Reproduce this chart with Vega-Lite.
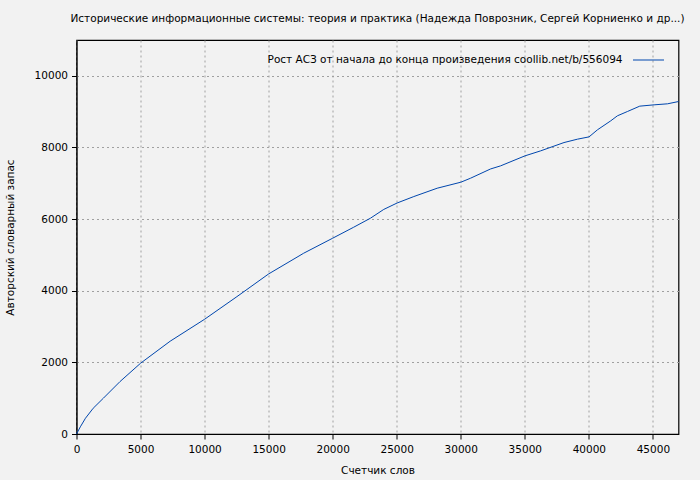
{
  "$schema": "https://vega.github.io/schema/vega-lite/v6.json",
  "width": 602,
  "height": 394,
  "autosize": "none",
  "padding": {"left": 76.5, "top": 40, "right": 21.5, "bottom": 46},
  "background": "#f2f2f2",
  "config": {
    "font": "DejaVu Sans",
    "view": {"stroke": "#000000", "strokeWidth": 1.2},
    "axis": {
      "labelFont": "DejaVu Sans",
      "titleFont": "DejaVu Sans",
      "labelFontSize": 10.5,
      "titleFontSize": 10.5,
      "titleFontWeight": "normal",
      "labelColor": "#000000",
      "titleColor": "#000000",
      "domainColor": "#000000",
      "tickColor": "#000000",
      "tickSize": 5,
      "labelFlush": false,
      "labelOverlap": false,
      "grid": true,
      "gridColor": "#a0a0a0",
      "gridDash": [2, 3],
      "gridWidth": 1
    }
  },
  "title": {
    "text": "Исторические информационные системы: теория и практика (Надежда Поврозник, Сергей Корниенко и др...)",
    "font": "DejaVu Sans",
    "fontSize": 10.5,
    "fontWeight": "normal",
    "color": "#000000",
    "anchor": "middle",
    "offset": 16
  },
  "data": {
    "values": [
      {"words": 0, "vocab": 0},
      {"words": 300, "vocab": 200},
      {"words": 700, "vocab": 440},
      {"words": 1300, "vocab": 718},
      {"words": 2100, "vocab": 1000},
      {"words": 3400, "vocab": 1465},
      {"words": 5000, "vocab": 1975},
      {"words": 7310, "vocab": 2590},
      {"words": 10000, "vocab": 3203},
      {"words": 12525, "vocab": 3835},
      {"words": 15000, "vocab": 4469},
      {"words": 17735, "vocab": 5047},
      {"words": 20000, "vocab": 5466},
      {"words": 21640, "vocab": 5773},
      {"words": 22950, "vocab": 6025},
      {"words": 23990, "vocab": 6270},
      {"words": 25035, "vocab": 6450},
      {"words": 26335, "vocab": 6629},
      {"words": 28160, "vocab": 6862},
      {"words": 30010, "vocab": 7030},
      {"words": 30770, "vocab": 7142},
      {"words": 32330, "vocab": 7400},
      {"words": 33110, "vocab": 7486},
      {"words": 35010, "vocab": 7765},
      {"words": 36240, "vocab": 7905},
      {"words": 38060, "vocab": 8137},
      {"words": 39110, "vocab": 8231},
      {"words": 40015, "vocab": 8295},
      {"words": 40670, "vocab": 8492},
      {"words": 41710, "vocab": 8743},
      {"words": 42230, "vocab": 8883},
      {"words": 43010, "vocab": 9003},
      {"words": 43975, "vocab": 9153},
      {"words": 45095, "vocab": 9190},
      {"words": 46140, "vocab": 9218},
      {"words": 47000, "vocab": 9282}
    ]
  },
  "mark": {"type": "line", "strokeWidth": 1, "interpolate": "linear"},
  "encoding": {
    "x": {
      "field": "words",
      "type": "quantitative",
      "title": "Счетчик слов",
      "scale": {"domain": [0, 47000], "nice": false},
      "axis": {"values": [0, 5000, 10000, 15000, 20000, 25000, 30000, 35000, 40000, 45000], "format": "d", "labelPadding": 5, "titlePadding": 11}
    },
    "y": {
      "field": "vocab",
      "type": "quantitative",
      "title": "Авторский словарный запас",
      "scale": {"domain": [0, 11000], "nice": false},
      "axis": {"values": [0, 2000, 4000, 6000, 8000, 10000], "format": "d", "labelPadding": 4, "titlePadding": 19}
    },
    "color": {
      "datum": "Рост АСЗ от начала до конца произведения coollib.net/b/556094",
      "scale": {"range": ["#0046ad"]},
      "legend": {
        "title": null,
        "orient": "none",
        "legendX": 556,
        "legendY": 4,
        "padding": 0,
        "symbolType": "stroke",
        "symbolSize": 961,
        "symbolStrokeWidth": 1,
        "labelFont": "DejaVu Sans",
        "labelFontSize": 10.5,
        "labelColor": "#000000",
        "labelAlign": "right",
        "labelOffset": -42,
        "labelLimit": 600
      }
    }
  }
}
